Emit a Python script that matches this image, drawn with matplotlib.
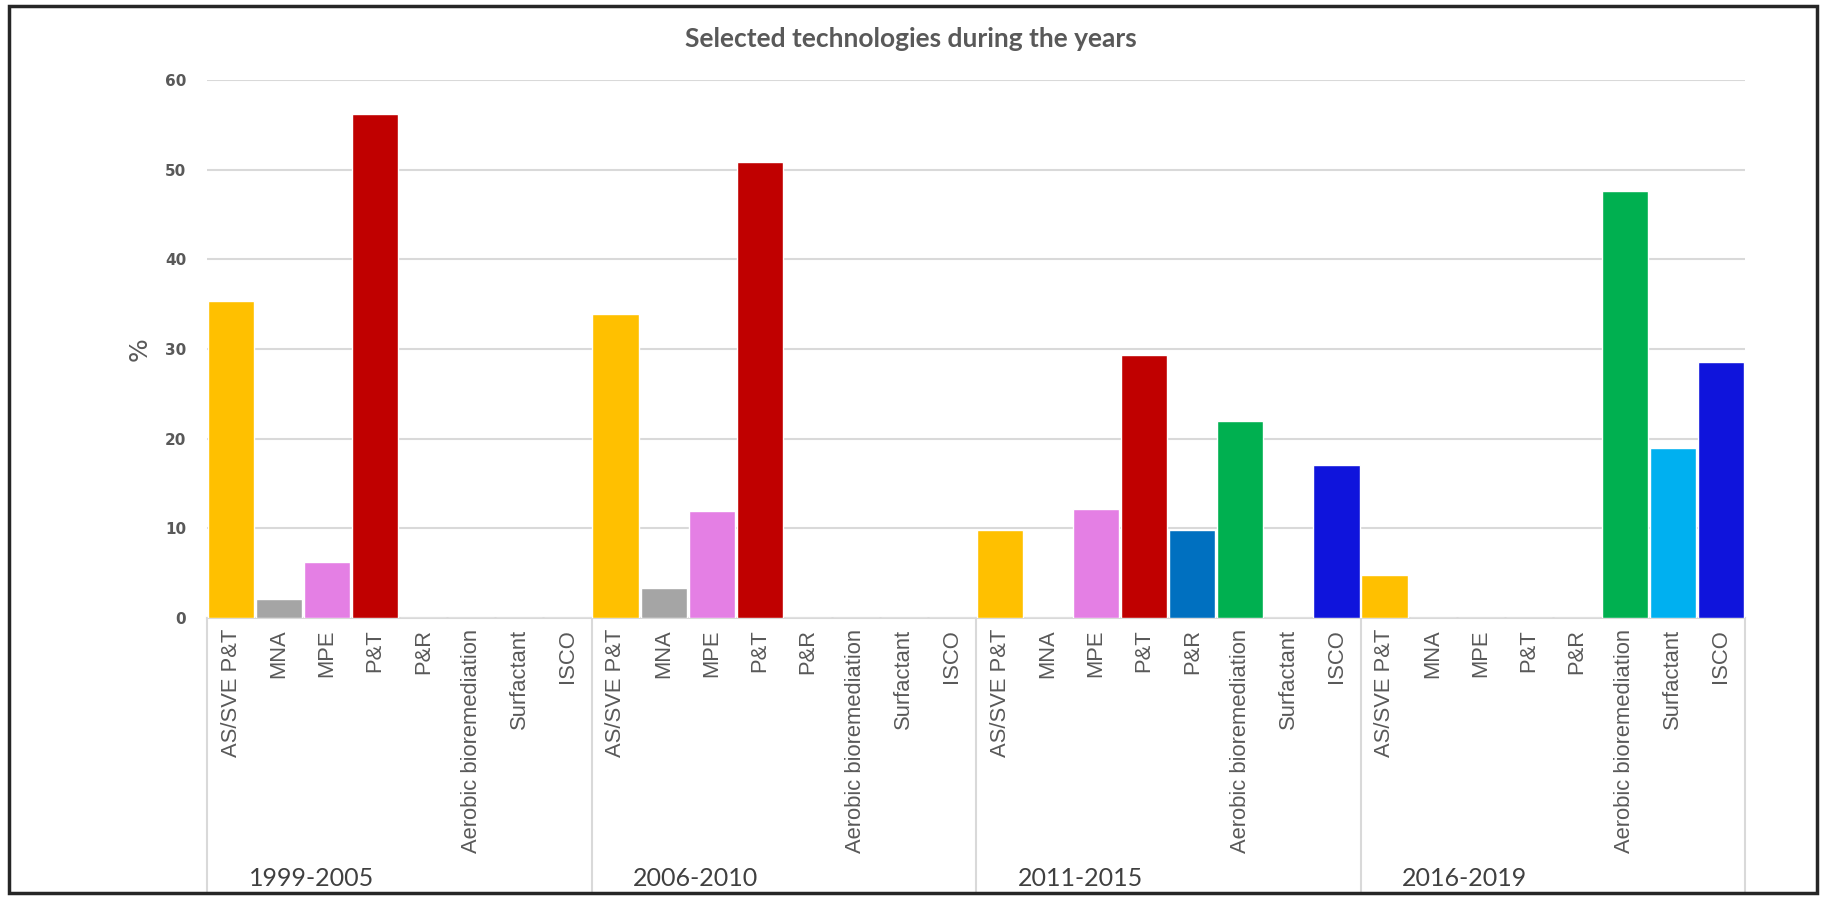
import numpy as np
import matplotlib
matplotlib.use("Agg")
import matplotlib.pyplot as plt
from matplotlib.patches import Rectangle
from matplotlib.lines import Line2D

# data (percent of projects per period)
periods = ["1999-2005", "2006-2010", "2011-2015", "2016-2019"]
techs = ["AS/SVE P&T", "MNA", "MPE", "P&T", "P&R",
         "Aerobic bioremediation", "Surfactant", "ISCO"]
v_1999_2005 = [35.4, 2.1, 6.3, 56.2, 0, 0, 0, 0]
v_2006_2010 = [33.9, 3.4, 11.9, 50.8, 0, 0, 0, 0]
v_2011_2015 = [9.8, 0, 12.2, 29.3, 9.8, 22.0, 0, 17.1]
v_2016_2019 = [4.8, 0, 0, 0, 0, 47.6, 19.0, 28.6]
tech_colors = ["#FFC000", "#A5A5A5", "#E47FE4", "#C00000",
               "#0070C0", "#00B050", "#00B0F0", "#0F14DC"]

GRAY = "#595959"
NARROW = ["Lato", "DejaVu Sans"]

W, H = 1821, 898
fig = plt.figure(figsize=(W/100, H/100), dpi=100)
x0, x1, y0, y1 = 207, 1745, 80, 618
ax = fig.add_axes([x0/W, 1-y1/H, (x1-x0)/W, (y1-y0)/H])

vals = [v_1999_2005, v_2006_2010, v_2011_2015, v_2016_2019]
n = len(techs)
for g, v in enumerate(vals):
    xs = np.arange(n) + g*n
    ax.bar(xs, v, width=0.96, color=tech_colors, edgecolor="white", linewidth=1, zorder=3)

ax.set_xlim(-0.5, len(periods)*n - 0.5)
ax.set_ylim(0, 60)
ax.set_yticks(range(0, 61, 10))
ax.yaxis.grid(True, color="#D9D9D9", lw=1.5, zorder=0)
for s in ["top", "right", "left"]:
    ax.spines[s].set_visible(False)
ax.spines["bottom"].set_color("#D9D9D9")
ax.spines["bottom"].set_linewidth(1.5)
ax.tick_params(axis="y", length=0, pad=15, labelsize=11, labelcolor=GRAY)
for t in ax.get_yticklabels():
    t.set_fontweight("bold")
ax.set_ylabel("%", fontsize=18, color=GRAY)
ax.yaxis.set_label_coords((152-x0)/(x1-x0), 0.5)

ax.set_xticks(np.arange(len(periods)*n))
ax.set_xticklabels(techs*len(periods), rotation=90, fontsize=15.8,
                   color=GRAY, family="Liberation Sans")
ax.tick_params(axis="x", length=0, pad=8)

# group separators and period labels under the axis
ybot = (y1-893)/(y1-y0)
trans = ax.get_xaxis_transform()
for g in range(len(periods)+1):
    xg = g*n - 0.5
    ax.add_line(Line2D([xg, xg], [0, ybot], transform=trans, color="#D9D9D9",
                       lw=1.5, clip_on=False))
for g, p in enumerate(periods):
    ax.text(g*n - 0.5 + 0.87, (y1-878)/(y1-y0), p, transform=trans,
            ha="left", va="center", fontsize=18, color="#404040", family=NARROW)

fig.text(0.5, 1-39/H, "Selected technologies during the years", ha="center",
         va="center", fontsize=19, fontweight="bold", color=GRAY, family=NARROW)

fig.add_artist(Rectangle((9/W, 1-893/H), (1817-9)/W, (893-6)/H, transform=fig.transFigure,
                         fill=False, ec="#262626", lw=2.5))

fig.savefig("out.png", dpi=100)
